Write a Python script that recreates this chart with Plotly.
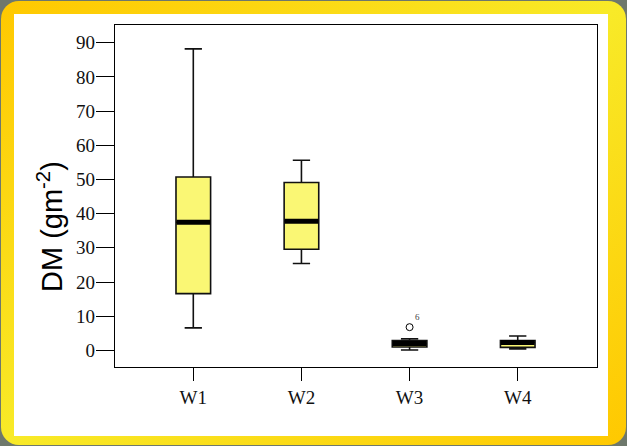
import plotly.graph_objects as go
import urllib.parse

categories = ["W1", "W2", "W3", "W4"]
lower_whisker = [6.6, 25.4, 0.1, 0.4]
q1_vals = [16.6, 29.6, 1.0, 0.9]
median_vals = [37.5, 37.8, 2.0, 2.3]
q3_vals = [50.7, 49.1, 2.9, 2.9]
upper_whisker = [88.2, 55.6, 3.4, 4.2]
outlier_cat = [2]
outlier_vals = [6.8]
outlier_labels = ["6"]
y_ticks = [0, 10, 20, 30, 40, 50, 60, 70, 80, 90]

W, H = 627, 446
ML, MR, MT, MB = 115, 30, 25, 79
BOXW = 0.32
FILL = "#FAF774"

pos = list(range(len(categories)))

fig = go.Figure()
fig.add_trace(go.Box(
    x=pos, q1=q1_vals, median=median_vals, q3=q3_vals,
    lowerfence=lower_whisker, upperfence=upper_whisker,
    width=BOXW, whiskerwidth=0.5, fillcolor=FILL,
    line=dict(color="#111111", width=1.6), boxpoints=False,
    showlegend=False, hoverinfo="skip",
))

mx, my = [], []
for i, m in zip(pos, median_vals):
    mx += [i - BOXW / 2 + 0.004, i + BOXW / 2 - 0.004, None]
    my += [m, m, None]
fig.add_trace(go.Scatter(x=mx, y=my, mode="lines",
                         line=dict(color="black", width=5),
                         showlegend=False, hoverinfo="skip"))

fig.add_trace(go.Scatter(
    x=outlier_cat, y=outlier_vals, mode="markers+text",
    marker=dict(symbol="circle-open", size=7, color="black", line=dict(width=1)),
    text=outlier_labels, textposition="top right",
    textfont=dict(family="Liberation Serif", size=9, color="#444444"),
    showlegend=False, hoverinfo="skip"))

pw = W - ML - MR
ph = H - MT - MB
svg = (
    f'<svg xmlns="http://www.w3.org/2000/svg" width="{W}" height="{H}" viewBox="0 0 {W} {H}">'
    '<defs><linearGradient id="g" x1="0" y1="0" x2="1" y2="1">'
    '<stop offset="0" stop-color="#FFC800"/>'
    '<stop offset="0.5" stop-color="#F8EA28"/>'
    '<stop offset="1" stop-color="#FFC800"/>'
    '</linearGradient></defs>'
    f'<rect x="0" y="0" width="{W}" height="{H}" fill="#6E786C"/>'
    f'<rect x="1" y="1" width="{W-2}" height="{H-2}" rx="18" ry="18" fill="url(#g)"/>'
    '<rect x="14" y="14" width="594" height="422" fill="#FFFFFF"/>'
    '</svg>'
)
src = "data:image/svg+xml;charset=utf-8," + urllib.parse.quote(svg)
fig.add_layout_image(dict(
    source=src, xref="paper", yref="paper",
    x=-ML / pw, y=1 + MT / ph, sizex=W / pw, sizey=H / ph,
    xanchor="left", yanchor="top", sizing="stretch", layer="below", opacity=1,
))

fig.add_annotation(
    text="DM (gm<sup>-2</sup>)", textangle=-90, xref="paper", yref="paper",
    x=-(ML - 50) / pw, y=1 - (227 - MT) / ph, xanchor="center", yanchor="middle",
    showarrow=False, font=dict(family="Liberation Sans", size=29, color="black"),
)

fig.update_layout(
    width=W, height=H,
    margin=dict(l=ML, r=MR, t=MT, b=MB),
    paper_bgcolor="#6E786C",
    plot_bgcolor="rgba(0,0,0,0)",
    showlegend=False,
    xaxis=dict(
        range=[-0.724, 3.733], tickmode="array", tickvals=pos, ticktext=categories,
        showgrid=False, zeroline=False, showline=True, linecolor="black", linewidth=1.2,
        mirror=True, ticks="outside", ticklen=13, tickcolor="black", tickwidth=1,
        tickfont=dict(family="Liberation Serif", size=19, color="#111111"),
    ),
    yaxis=dict(
        range=[-4.85, 95.17], tickmode="array", tickvals=y_ticks,
        showgrid=False, zeroline=False, showline=True, linecolor="black", linewidth=1.2,
        mirror=True, ticks="outside", ticklen=18, tickcolor="black", tickwidth=1,
        ticklabelstandoff=-3,
        tickfont=dict(family="Liberation Serif", size=19, color="#111111"),
    ),
)

fig.write_html(
    "out.html",
    config={"displayModeBar": False},
    post_script="document.body.style.margin='0';document.body.style.overflow='hidden';",
)
